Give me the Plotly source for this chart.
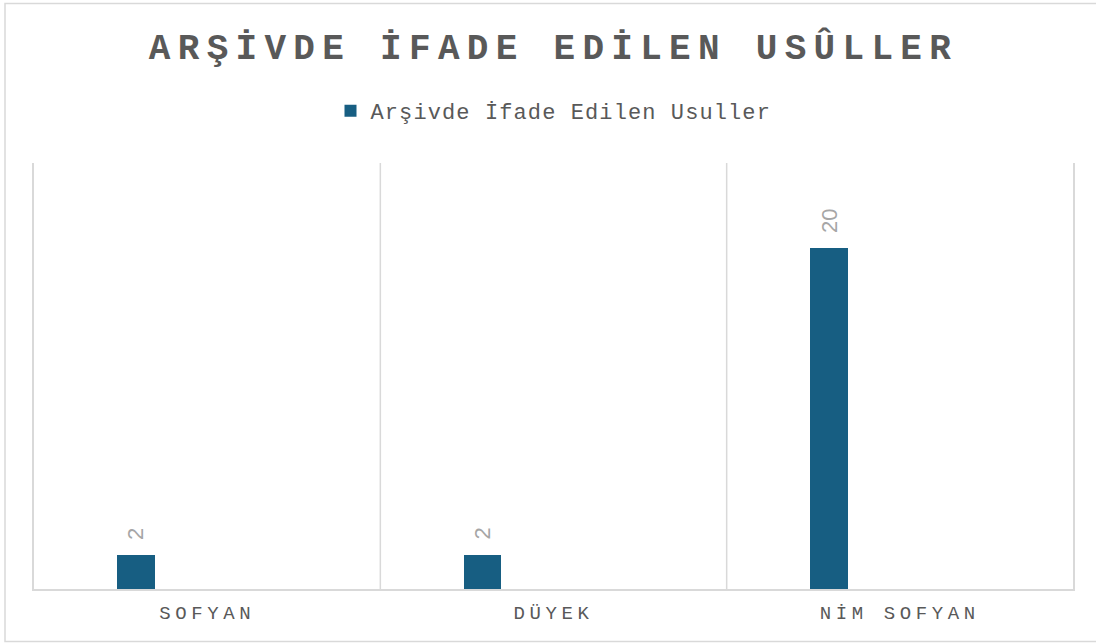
import plotly.graph_objects as go

categories = ["SOFYAN", "DÜYEK", "NİM SOFYAN"]
values = [2, 2, 20]
series_name = "Arşivde İfade Edilen Usuller"
title_text = "ARŞİVDE İFADE EDİLEN USÛLLER"

W, H = 1096, 643
L, R, T, B = 34, W - 1073, 163, H - 589
pw, ph = W - L - R, H - T - B

BAR_COLOR = "#175E82"
GRID = "#D9D9D9"
BAR_OFFSET = -0.205   # bar centre shift within category (category units)
BAR_WIDTH = 0.108

xs = list(range(len(categories)))

def spaced(text, px):
    return f'<span style="letter-spacing:{px}px">{text}</span>'

fig = go.Figure()
fig.add_trace(go.Bar(
    x=xs, y=values, name=spaced(series_name, 1.1),
    marker=dict(color=BAR_COLOR, line=dict(width=0)),
    width=BAR_WIDTH, offset=BAR_OFFSET - BAR_WIDTH / 2,
    showlegend=True,
))

for xi, v in zip(xs, values):
    fig.add_annotation(
        x=xi + BAR_OFFSET, y=v, xref="x", yref="y",
        text=str(v), textangle=-90, showarrow=False,
        yanchor="bottom", xanchor="center", yshift=13,
        font=dict(family="Liberation Sans", size=22, color="#A6A6A6"),
    )

def px2paper_x(px):
    return (px - L) / pw

def px2paper_y(py):
    return (H - B - py) / ph

# outer chart border
fig.add_shape(type="rect", xref="paper", yref="paper",
              x0=px2paper_x(5), x1=px2paper_x(1100),
              y0=px2paper_y(641.5), y1=px2paper_y(3.5),
              line=dict(color=GRID, width=1.5), fillcolor="rgba(0,0,0,0)", layer="below")

fig.update_layout(
    width=W, height=H,
    margin=dict(l=L, r=R, t=T, b=B),
    paper_bgcolor="white", plot_bgcolor="white",
    title=dict(
        text=spaced(title_text, 7.3),
        x=0.5, xref="paper", xanchor="center",
        y=1 - 46 / H, yref="container", yanchor="middle",
        font=dict(family="Liberation Mono", size=36, color="#595959", weight="bold"),
    ),
    legend=dict(
        orientation="h", x=0.5, xanchor="center",
        y=px2paper_y(111), yanchor="middle",
        font=dict(family="Liberation Mono", size=22, color="#595959"),
        bgcolor="rgba(0,0,0,0)",
    ),
    xaxis=dict(
        tickmode="array", tickvals=xs,
        ticktext=[spaced(c, 4.6) for c in categories],
        range=[-0.5, len(categories) - 0.5],
        showgrid=False, zeroline=False,
        showline=True, linecolor=GRID, linewidth=1.5,
        ticks="", ticklabelstandoff=5,
        tickfont=dict(family="Liberation Mono", size=19, color="#595959"),
    ),
    yaxis=dict(
        range=[0, 25], showticklabels=False, showgrid=False, zeroline=False,
        showline=True, mirror=True, linecolor=GRID, linewidth=1.5, ticks="",
    ),
    bargap=0,
)

# category separators
for b in range(1, len(categories)):
    fig.add_vline(x=b - 0.5, line=dict(color=GRID, width=1.5), layer="below")

fig.write_html("out.html", config={"displayModeBar": False},
               post_script="document.body.style.margin='0';")
